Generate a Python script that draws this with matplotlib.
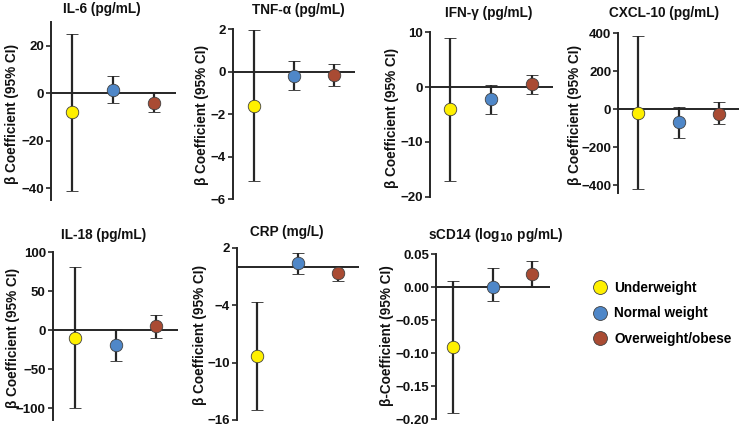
import matplotlib
matplotlib.use("Agg")
import matplotlib.pyplot as plt
from matplotlib.lines import Line2D

plt.rcParams['font.family'] = ['Liberation Sans', 'DejaVu Sans']
plt.rcParams['font.weight'] = 'bold'

groups = ["Underweight", "Normal weight", "Overweight/obese"]
group_colors = ["#FFF000", "#4F87C8", "#A94B33"]

titles = ["IL-6 (pg/mL)", "TNF-\u03b1 (pg/mL)", "IFN-\u03b3 (pg/mL)", "CXCL-10 (pg/mL)",
          "IL-18 (pg/mL)", "CRP (mg/L)", "sCD14 (log$_{\\mathbf{10}}$ pg/mL)"]
ylabels = ["\u03b2 Coefficient (95% CI)"] * 6 + ["\u03b2-Coefficient (95% CI)"]

il6_est = [-8, 1.5, -4]
il6_lo = [-41, -4.3, -8]
il6_hi = [25, 7.4, 0.3]

tnf_est = [-1.6, -0.2, -0.15]
tnf_lo = [-5.15, -0.87, -0.66]
tnf_hi = [1.93, 0.52, 0.36]

ifn_est = [-4.0, -2.2, 0.5]
ifn_lo = [-17.2, -4.9, -1.3]
ifn_hi = [9.0, 0.3, 2.2]

cxcl_est = [-18, -67, -23]
cxcl_lo = [-420, -150, -79]
cxcl_hi = [385, 14, 38]

il18_est = [-9.8, -18.8, 4.8]
il18_lo = [-100, -39, -10.7]
il18_hi = [81.5, 1.8, 19.8]

crp_est = [-9.3, 0.42, -0.63]
crp_lo = [-15.0, -0.73, -1.5]
crp_hi = [-3.7, 1.46, 0.14]

scd14_est = [-0.09, 0.0, 0.02]
scd14_lo = [-0.19, -0.02, 0.0]
scd14_hi = [0.01, 0.03, 0.04]

ests = [il6_est, tnf_est, ifn_est, cxcl_est, il18_est, crp_est, scd14_est]
los = [il6_lo, tnf_lo, ifn_lo, cxcl_lo, il18_lo, crp_lo, scd14_lo]
his = [il6_hi, tnf_hi, ifn_hi, cxcl_hi, il18_hi, crp_hi, scd14_hi]

yticks = [[-40, -20, 0, 20], [-6, -4, -2, 0, 2], [-20, -10, 0, 10],
          [-400, -200, 0, 200, 400], [-100, -50, 0, 50, 100], [-16, -10, -4, 2],
          [-0.2, -0.15, -0.1, -0.05, 0.0, 0.05]]
yticklabels = [None, None, None, None, None, None,
               ["\u22120.20", "\u22120.15", "\u22120.10", "\u22120.05", "0.00", "0.05"]]

# layout (pixels): spine x, right x, top y, bottom y, ylim, xlim
W, H = 741, 430
layout = [
    (51, 176, 22, 200, (-45, 30), (0.488, 3.537)),
    (232.7, 355, 29, 199.3, (-6, 2), (0.468, 3.525)),
    (430, 552.7, 32.3, 196.7, (-20, 10), (0.514, 3.496)),
    (618.3, 739, 33.3, 192.9, (-440, 400), (0.504, 3.496)),
    (52.7, 178.3, 252.3, 419.7, (-115, 100), (0.449, 3.55)),
    (236.7, 359, 247.7, 420, (-16, 2), (0.491, 3.51)),
    (436, 550, 254.3, 419.3, (-0.2, 0.05), (0.559, 3.466)),
]
title_pos = [(101.7, 8.7), (298.3, 10), (488.3, 13.3), (664, 13.3),
             (103.3, 235), (286.7, 231.7), (495.7, 235)]
ylabel_pos = [(12, 114), (201.7, 115), (391.7, 118), (575, 115),
              (13.3, 338), (200, 335), (386.7, 336)]

fig = plt.figure(figsize=(W / 100, H / 100), dpi=100)
xpos = [1, 2, 3]
line_color = "#262626"

for i in range(7):
    sx, rx, ty, by, ylim, xlim = layout[i]
    ax = fig.add_axes([sx / W, 1 - by / H, (rx - sx) / W, (by - ty) / H])
    ax.axhline(0, color=line_color, lw=1.4, zorder=1)
    for j in range(3):
        e = ests[i][j]
        ax.errorbar([xpos[j]], [e], yerr=[[e - los[i][j]], [his[i][j] - e]],
                    fmt='o', color=line_color, ecolor=line_color, elinewidth=1.6,
                    capsize=4.5, capthick=1.6, markersize=9,
                    markerfacecolor=group_colors[j], markeredgecolor="#404040",
                    markeredgewidth=0.6, zorder=3)
    ax.set_xlim(*xlim)
    ax.set_ylim(*ylim)
    ax.set_yticks(yticks[i])
    if yticklabels[i] is not None:
        ax.set_yticklabels(yticklabels[i])
    ax.set_xticks([])
    for s in ["top", "right", "bottom"]:
        ax.spines[s].set_visible(False)
    ax.spines["left"].set_linewidth(1.4)
    ax.spines["left"].set_color(line_color)
    ax.tick_params(axis='y', direction='out', length=3.5, width=1.2,
                   colors=line_color, labelsize=9.5, pad=1.5)
    for lab in ax.get_yticklabels():
        lab.set_fontweight('bold')
        lab.set_color('#111111')
    ax.patch.set_visible(False)
    tx, tyy = title_pos[i]
    fig.text(tx / W, 1 - tyy / H, titles[i], ha='center', va='center',
             fontsize=9.8, fontweight='bold', color='#111111')
    lx, lyy = ylabel_pos[i]
    fig.text(lx / W, 1 - lyy / H, ylabels[i], ha='center', va='center',
             rotation=90, fontsize=9.8, fontweight='bold', color='#111111')

handles = [Line2D([], [], linestyle='none', marker='o', markersize=10,
                  markerfacecolor=c, markeredgecolor="#404040", markeredgewidth=0.6)
           for c in group_colors]
fig.legend(handles, groups, loc='upper left', bbox_to_anchor=(586.5 / W, 1 - 274 / H),
           frameon=False, prop={'weight': 'bold', 'size': 9.8}, handlelength=1.0,
           handletextpad=0.55, labelspacing=0.85, borderpad=0)

fig.savefig("out.png", dpi=100)
